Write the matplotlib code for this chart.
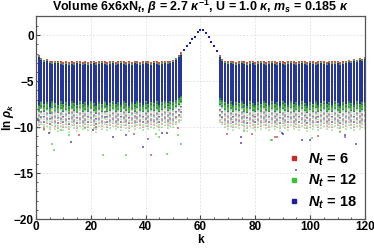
import matplotlib
matplotlib.use("Agg")
import matplotlib.pyplot as plt
from matplotlib.lines import Line2D
import numpy as np

plt.rcParams['font.family'] = ['Liberation Sans', 'DejaVu Sans']
plt.rcParams['mathtext.fontset'] = 'custom'
plt.rcParams['mathtext.it'] = 'Liberation Sans:italic:bold'
plt.rcParams['mathtext.rm'] = 'Liberation Sans:bold'
plt.rcParams['mathtext.bf'] = 'Liberation Sans:bold'
plt.rcParams['mathtext.sf'] = 'Liberation Sans:bold'

# ---------------- data ----------------
series_labels = ["6", "12", "18"]
series_colors = ["#c62a2a", "#36c236", "#1c1cae"]

# dense band: k positions, top of band, bottom of dense part, bottom of sparse part
band_k = list(range(1, 54)) + list(range(67, 121))
band_top = [-2.4, -2.7, -2.9, -2.8, -3.0, -3.1, -3.0, -3.0, -3.1, -3.2,
            -3.1, -3.2, -3.1, -3.2, -3.0, -3.1, -3.2, -3.1, -3.2, -3.1,
            -3.0, -3.2, -3.1, -3.0, -3.1, -3.2, -3.1, -3.0, -3.2, -3.1,
            -3.0, -3.1, -3.2, -3.1, -3.2, -3.0, -3.1, -3.2, -3.1, -3.0,
            -3.1, -3.2, -3.0, -3.1, -3.2, -3.1, -3.0, -3.1, -3.0, -2.9,
            -2.7, -2.4, -2.1,
            -2.4, -2.8, -3.0, -3.1, -3.0, -3.1, -3.2, -3.1, -3.0, -3.1,
            -3.2, -3.1, -3.0, -3.2, -3.1, -3.0, -3.1, -3.2, -3.1, -3.0,
            -3.1, -3.2, -3.0, -3.1, -3.2, -3.1, -3.0, -3.1, -3.2, -3.1,
            -3.0, -3.1, -3.2, -3.0, -3.1, -3.2, -3.1, -3.0, -3.1, -3.2,
            -3.0, -3.1, -3.1, -3.0, -3.2, -3.1, -3.0, -2.9, -3.0, -2.8,
            -2.9, -2.7, -2.8, -2.6]
band_dense_bottom = [-7.6, -7.2, -7.5, -7.3, -7.8, -7.1, -7.4, -7.6, -7.2, -7.5,
                     -7.3, -7.7, -7.2, -7.4, -7.6, -7.1, -7.5, -7.3, -7.6, -7.2,
                     -7.4, -7.7, -7.3, -7.5, -7.1, -7.6, -7.4, -7.2, -7.5, -7.3,
                     -7.6, -7.2, -7.4, -7.7, -7.3, -7.5, -7.1, -7.4, -7.6, -7.2,
                     -7.5, -7.3, -7.4, -7.2, -7.6, -7.3, -7.1, -7.4, -7.2, -7.3,
                     -7.0, -6.8, -6.6,
                     -6.8, -7.0, -7.3, -7.5, -7.2, -7.6, -7.3, -7.4, -7.1, -7.5,
                     -7.7, -7.2, -7.4, -7.6, -7.3, -7.5, -7.1, -7.4, -7.6, -7.2,
                     -7.5, -7.3, -7.7, -7.2, -7.4, -7.6, -7.1, -7.5, -7.3, -7.6,
                     -7.2, -7.4, -7.7, -7.3, -7.5, -7.1, -7.6, -7.4, -7.2, -7.5,
                     -7.3, -7.6, -7.2, -7.4, -7.7, -7.3, -7.5, -7.1, -7.4, -7.6,
                     -7.2, -7.5, -7.3, -7.4]
band_sparse_bottom = [-9.4, -9.0, -9.6, -9.2, -9.8, -9.1, -9.5, -9.7, -9.2, -9.6,
                      -9.3, -9.8, -9.1, -9.4, -9.7, -9.2, -9.5, -9.3, -9.6, -9.1,
                      -9.4, -9.8, -9.2, -9.5, -9.0, -9.6, -9.4, -9.2, -9.5, -9.3,
                      -9.6, -9.1, -9.4, -9.7, -9.2, -9.5, -9.1, -9.4, -9.6, -9.2,
                      -9.5, -9.3, -9.4, -9.2, -9.6, -9.3, -9.1, -9.4, -9.2, -9.3,
                      -9.0, -8.8, -8.5,
                      -8.8, -9.0, -9.3, -9.5, -9.2, -9.6, -9.3, -9.4, -9.1, -9.5,
                      -9.7, -9.2, -9.4, -9.6, -9.3, -9.5, -9.1, -9.4, -9.6, -9.2,
                      -9.5, -9.3, -9.7, -9.2, -9.4, -9.6, -9.1, -9.5, -9.3, -9.6,
                      -9.2, -9.4, -9.7, -9.3, -9.5, -9.1, -9.6, -9.4, -9.2, -9.5,
                      -9.3, -9.6, -9.2, -9.4, -9.7, -9.3, -9.5, -9.1, -9.4, -9.6,
                      -9.2, -9.5, -9.3, -9.4]
# how far each series' band reaches above / below the common band
series_top_shift = [0.25, 0.1, 0.0]
series_bottom_shift = [-0.5, -0.8, 0.0]

# central hump (all series coincide)
hump_k = [54, 55, 56, 57, 58, 59, 60, 61, 62, 63, 64, 65, 66]
hump_val = [-1.6, -1.2, -0.8, -0.45, -0.18, 0.36, 0.62, 0.54, 0.29, -0.18, -0.7, -1.2, -1.7]

# isolated low outliers (k, ln rho)
out_red_k = [15.8, 35.8, 40.8, 41.9, 51.7, 69.6, 78.7, 87.2, 87.8, 102.7, 112.8, 3, 22]
out_red_v = [-10.9, -10.8, -11.3, -13.0, -10.1, -10.8, -10.8, -11.1, -11.1, -11.0, -11.05, -10.2, -10.0]
out_green_k = [5.8, 6.7, 11.9, 24.3, 32.8, 43.8, 45.0, 47.7, 51.7, 52.8, 75.7, 85.8, 86.0, 100.6, 110.7, 9, 18]
out_green_v = [-11.8, -12.5, -10.9, -13.0, -13.0, -10.8, -11.1, -12.9, -10.9, -11.8, -10.4, -11.4, -11.4, -11.2, -10.5, -10.3, -10.1]
out_blue_k = [0.6, 4.9, 12.8, 20.9, 28.0, 32.8, 38.9, 45.9, 47.7, 74.8, 74.8, 89.9, 90.0, 94.8, 97.0, 99.8, 112.8, 116.8]
out_blue_v = [-9.2, -10.6, -11.6, -10.3, -11.05, -10.9, -12.2, -10.6, -10.6, -11.05, -11.7, -10.6, -10.7, -14.7, -11.4, -11.4, -10.9, -11.85]

x_ticks = [0, 20, 40, 60, 80, 100, 120]
y_ticks = [0, -5, -10, -15, -20]
y_ticklabels = ["0", "\u22125", "\u221210", "\u221215", "\u221220"]

# ---------------- figure ----------------
fig = plt.figure(figsize=(3.74, 2.49), dpi=100)
ax = fig.add_axes([36 / 374, 1 - 219 / 249, (365 - 36) / 374, (219 - 16) / 249])

ax.set_xlim(0, 120)
ax.set_ylim(-20, 2.1)

outliers = [(out_red_k, out_red_v), (out_green_k, out_green_v), (out_blue_k, out_blue_v)]
bk = np.array(band_k, dtype=float)
for i, col in enumerate(series_colors):
    top = np.array(band_top) + series_top_shift[i]
    dbot = np.array(band_dense_bottom) + series_bottom_shift[i]
    sbot = np.array(band_sparse_bottom) + series_bottom_shift[i]
    ax.vlines(bk, sbot, dbot, color=col, lw=1.2, alpha=0.5, linestyles=(0, (1.0, 2.2)), zorder=2 + i)
    ax.vlines(bk, dbot, top, color=col, lw=1.25, alpha=0.95, zorder=2 + i)
    ok, ov = outliers[i]
    ax.scatter(ok, ov, s=3, marker='s', color=col, alpha=0.6, linewidths=0, zorder=2 + i)
    ax.scatter(hump_k, hump_val, s=4, marker='s', color=col, linewidths=0, zorder=2 + i)

ax.set_xticks(x_ticks)
ax.set_yticks(y_ticks)
ax.set_xticklabels([str(v) for v in x_ticks])
ax.set_yticklabels(y_ticklabels)
ax.set_xticks(np.arange(0, 121, 5), minor=True)
ax.set_yticks(np.arange(-20, 2, 1), minor=True)
ax.tick_params(axis='both', which='both', direction='in', labelsize=8.5, pad=1.5, color='#444444')
ax.tick_params(which='major', length=3, width=0.8)
ax.tick_params(which='minor', length=1.5, width=0.6)
for lab in ax.get_xticklabels() + ax.get_yticklabels():
    lab.set_fontweight('bold')
for s in ax.spines.values():
    s.set_color('#555555')
    s.set_linewidth(0.9)
ax.grid(True, which='major', color='#dddddd', linestyle=(0, (2, 2)), linewidth=0.6)
ax.set_axisbelow(True)

ax.set_xlabel('k', fontsize=8.5, fontweight='bold', labelpad=1)
ax.set_ylabel(r'ln $\rho_k$', fontsize=8.5, fontweight='bold')
ax.yaxis.set_label_coords(-0.062, 0.5)

ax.set_title(r'Volume 6x6xN$_t$, $\beta$ = 2.7 $\kappa^{-1}$, U = 1.0 $\kappa$, $m_s$ = 0.185 $\kappa$',
             fontsize=9.0, fontweight='bold', pad=0.5)

handles = [Line2D([], [], ls='none', marker='s', markersize=3.5, color=c) for c in series_colors]
labels = [r'$N_t$ = ' + s for s in series_labels]
leg = ax.legend(handles, labels, loc='lower right', frameon=False,
                prop={'weight': 'bold', 'size': 10.5}, handlelength=0.8, handletextpad=0.6,
                labelspacing=0.35, bbox_to_anchor=(1.0, 0.0), borderaxespad=0.15)

fig.savefig('out.png', dpi=100)
